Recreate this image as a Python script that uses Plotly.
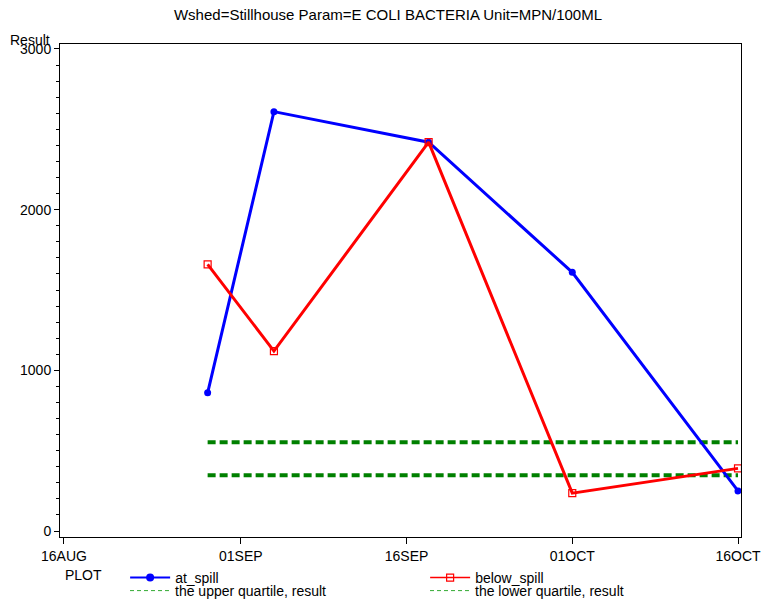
import plotly.graph_objects as go

# ---- data ----
dates = ["2009-08-29", "2009-09-04", "2009-09-18", "2009-10-01", "2009-10-16"]
at_spill = [860, 2610, 2420, 1610, 250]
below_spill = [1660, 1120, 2420, 236, 390]
quartile_dates = ["2009-08-29", "2009-10-16"]
upper_quartile = [553, 553]
lower_quartile = [348, 348]
x_tickvals = ["2009-08-16", "2009-09-01", "2009-09-16", "2009-10-01", "2009-10-16"]
x_ticktext = ["16AUG", "01SEP", "16SEP", "01OCT", "16OCT"]
y_tickvals = [0, 1000, 2000, 3000]

FONT = "Liberation Sans, Arial, sans-serif"
GREEN = "#008000"
BLUE = "#0000FF"
RED = "#FF0000"
W, H = 762, 601

fig = go.Figure()

# quartile lines (thick dashed in plot, thin in legend)
fig.add_trace(go.Scatter(x=quartile_dates, y=upper_quartile, mode="lines",
                         name="the upper quartile, result",
                         line=dict(color=GREEN, width=4, dash="8px,4px"),
                         showlegend=False))
fig.add_trace(go.Scatter(x=quartile_dates, y=lower_quartile, mode="lines",
                         name="the lower quartile, result",
                         line=dict(color=GREEN, width=4, dash="8px,4px"),
                         showlegend=False))

fig.add_trace(go.Scatter(x=dates, y=at_spill, mode="lines+markers", name="at_spill",
                         line=dict(color=BLUE, width=3),
                         marker=dict(symbol="circle", size=7, color=BLUE),
                         showlegend=False))
fig.add_trace(go.Scatter(x=dates, y=below_spill, mode="lines+markers", name="below_spill",
                         line=dict(color=RED, width=3),
                         marker=dict(symbol="square-open", size=7, color=RED,
                                     line=dict(width=1.2, color=RED)),
                         showlegend=False))

# legend entries (thin symbols as in the reference legend)
fig.add_trace(go.Scatter(x=[None], y=[None], mode="lines+markers", name="at_spill",
                         line=dict(color=BLUE, width=2),
                         marker=dict(symbol="circle", size=8, color=BLUE), legend="legend"))
fig.add_trace(go.Scatter(x=[None], y=[None], mode="lines+markers", name="below_spill",
                         line=dict(color=RED, width=1.5),
                         marker=dict(symbol="square-open", size=7, color=RED,
                                     line=dict(width=1.2, color=RED)), legend="legend"))
fig.add_trace(go.Scatter(x=[None], y=[None], mode="lines", name="the upper quartile, result",
                         line=dict(color="#33AA33", width=1, dash="4px,3px"), legend="legend2"))
fig.add_trace(go.Scatter(x=[None], y=[None], mode="lines", name="the lower quartile, result",
                         line=dict(color="#33AA33", width=1, dash="4px,3px"), legend="legend2"))

common_legend = dict(orientation="h", xref="container", yref="container",
                     xanchor="left", yanchor="middle",
                     entrywidth=245, entrywidthmode="pixels", itemwidth=40,
                     font=dict(size=14, family=FONT), bgcolor="rgba(0,0,0,0)",
                     borderwidth=0)

fig.update_layout(
    width=W, height=H,
    margin=dict(l=60, r=21, t=44, b=64, autoexpand=False),
    paper_bgcolor="white", plot_bgcolor="white",
    font=dict(family=FONT, size=14, color="black"),
    title=dict(text="Wshed=Stillhouse Param=E COLI BACTERIA Unit=MPN/100ML",
               xref="container", x=388 / W, xanchor="center",
               yref="container", y=1 - 15 / H, yanchor="middle",
               font=dict(size=15, family=FONT)),
    showlegend=True,
    legend=dict(common_legend, x=63 / W, y=1 - 578 / H,
                title=dict(text="PLOT&nbsp;&nbsp;&nbsp;&nbsp;", side="left",
                           font=dict(size=14, family=FONT))),
    legend2=dict(common_legend, x=125 / W, y=1 - 591 / H),
    xaxis=dict(type="date", range=["2009-08-15 15:20", "2009-10-16 06:30"],
               tickvals=x_tickvals, ticktext=x_ticktext,
               showgrid=False, zeroline=False, showline=True, linecolor="black", linewidth=1,
               mirror=True, ticks="outside", ticklen=6, tickcolor="black"),
    yaxis=dict(range=[-37, 3031], tickvals=y_tickvals,
               showgrid=False, zeroline=False, showline=True, linecolor="black", linewidth=1,
               mirror=True, ticks="outside", ticklen=5, tickcolor="black",
               minor=dict(dtick=100, ticks="outside", ticklen=3, tickcolor="black", showgrid=False)),
    annotations=[dict(text="Result", xref="paper", yref="paper", x=-0.0757, y=1.008,
                      xanchor="left", yanchor="middle", showarrow=False,
                      font=dict(size=14, family=FONT))],
)

fig.write_html("out.html", config={"displayModeBar": False},
               post_script="document.body.style.margin='0';")
